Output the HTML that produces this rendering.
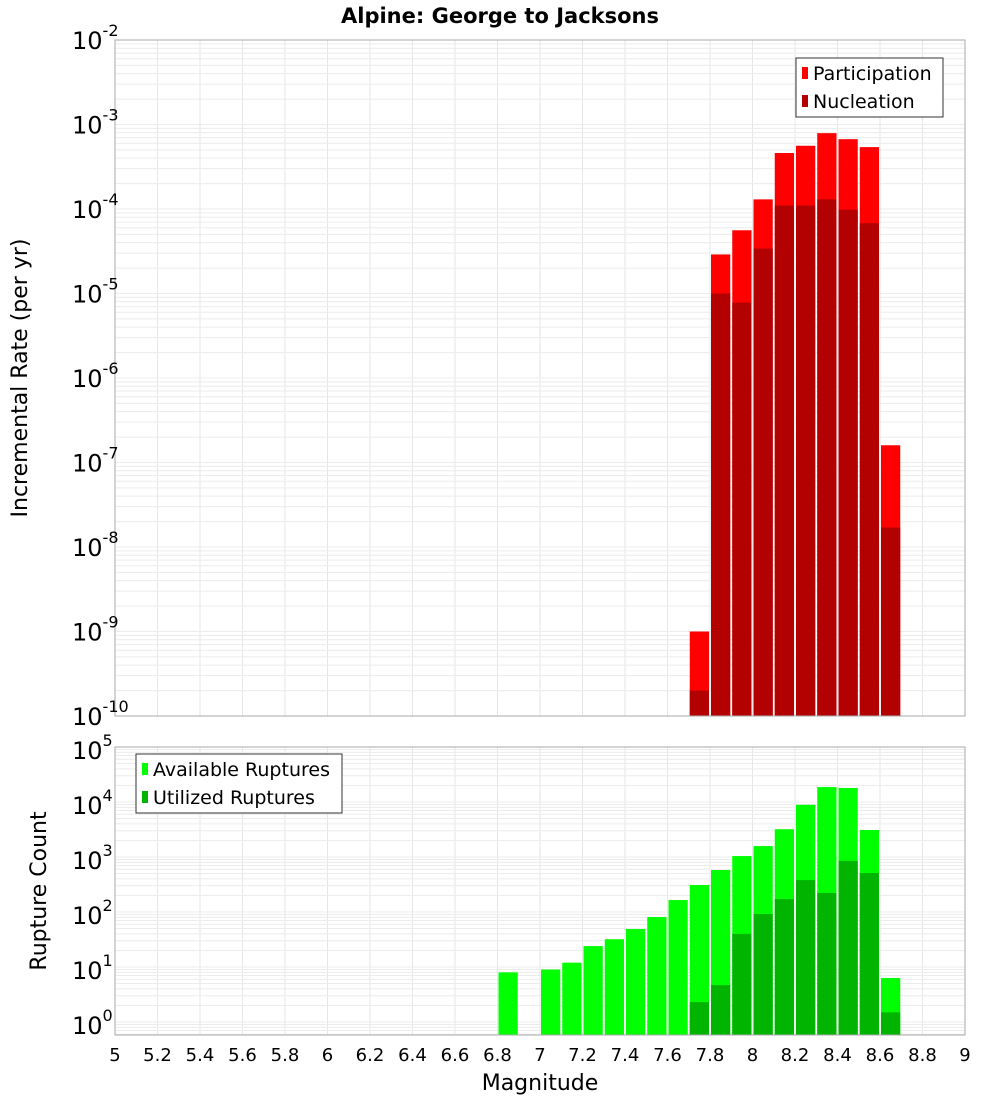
<!DOCTYPE html>
<html><head><meta charset="utf-8"><style>
body{margin:0;background:#fff;}
svg text{font-family:"DejaVu Sans","Liberation Sans",sans-serif;}
</style></head><body>
<svg id="c" width="1000" height="1100" xmlns="http://www.w3.org/2000/svg">
<text x="500" y="23" text-anchor="middle" font-size="21" font-weight="bold">Alpine: George to Jacksons</text>
<g id="grid"></g>
<g id="bars"></g>
<g id="axes"></g>
</svg>
<script>
const magBins = [7.7, 7.8, 7.9, 8.0, 8.1, 8.2, 8.3, 8.4, 8.5, 8.6];
const participation = [1e-9, 2.9e-5, 5.6e-5, 1.3e-4, 4.6e-4, 5.6e-4, 7.9e-4, 6.7e-4, 5.4e-4, 1.6e-7];
const nucleation = [2e-10, 1e-5, 7.8e-6, 3.4e-5, 1.1e-4, 1.1e-4, 1.3e-4, 9.8e-5, 6.8e-5, 1.7e-8];
const countBins = [6.8, 7.0, 7.1, 7.2, 7.3, 7.4, 7.5, 7.6, 7.7, 7.8, 7.9, 8.0, 8.1, 8.2, 8.3, 8.4, 8.5, 8.6];
const available = [8, 9, 12, 24, 32, 49, 81, 165, 310, 580, 1040, 1580, 3200, 8900, 18700, 18000, 3100, 6.3];
const utilBins = [7.7, 7.8, 7.9, 8.0, 8.1, 8.2, 8.3, 8.4, 8.5, 8.6];
const utilized = [2.3, 4.7, 40, 92, 172, 380, 222, 850, 510, 1.5];
const xTicks = [5,5.2,5.4,5.6,5.8,6,6.2,6.4,6.6,6.8,7,7.2,7.4,7.6,7.8,8,8.2,8.4,8.6,8.8,9];
const topExp = [-2,-3,-4,-5,-6,-7,-8,-9,-10];
const botExp = [5,4,3,2,1,0];

const NS="http://www.w3.org/2000/svg";
const X0=115,X1=965;
const xs=m=>X0+(m-5)*(X1-X0)/4;
const T0=40,T1=716;
const yTop=v=>T0+(-2-Math.log10(v))*(T1-T0)/8;
const B0=747,B1=1035;
const yBot=v=>1022-Math.log10(v)*55;
function mk(tag,attrs,parent){const e=document.createElementNS(NS,tag);for(const k in attrs)e.setAttribute(k,attrs[k]);parent.appendChild(e);return e;}
const grid=document.getElementById('grid'),bars=document.getElementById('bars'),axes=document.getElementById('axes');

// plot backgrounds & grid
[[T0,T1],[B0,B1]].forEach(([a,b],i)=>{
  xTicks.forEach(t=>{const l=mk('line',{x1:xs(t),x2:xs(t),y1:a,y2:b,stroke:'#e6e6e6'},grid);
    
    });
});
for(let e=-10;e<-2;e++)for(let k=1;k<10;k++){const y=yTop(k*Math.pow(10,e));
  const l=mk('line',{x1:X0,x2:X1,y1:y,y2:y,stroke:'#ececec'},grid);
  
  }
for(let e=-1;e<5;e++)for(let k=1;k<10;k++){const v=k*Math.pow(10,e);const y=yBot(v);if(y>B1||y<B0)continue;
  const l=mk('line',{x1:X0,x2:X1,y1:y,y2:y,stroke:'#ececec'},grid);
  
  }

function bar(m,v,yf,base,col,name){const x=xs(m)+1,w=xs(m+0.1)-xs(m)-2;const y=Math.max(yf(v),0);
  const r=mk('rect',{x:x,y:y,width:w,height:base-y,fill:col},bars);
  
  }
magBins.forEach((m,i)=>bar(m,participation[i],yTop,T1,'#ff0000','participation-bar'));
magBins.forEach((m,i)=>bar(m,nucleation[i],yTop,T1,'#b30000','nucleation-bar'));
countBins.forEach((m,i)=>bar(m,available[i],yBot,B1,'#00ff00','available-bar'));
utilBins.forEach((m,i)=>bar(m,utilized[i],yBot,B1,'#00b400','utilized-bar'));

// frames
[[T0,T1],[B0,B1]].forEach(([a,b])=>{const r=mk('rect',{x:X0,y:a,width:X1-X0,height:b-a,fill:'none',stroke:'#aaa'},axes);
  
  });

function powLabel(x,y,e,name){const t=mk('text',{x:x,y:y,'font-size':24,'text-anchor':'end'},axes);
  
  
  t.textContent='10';
  const s=mk('tspan',{dy:-13,'font-size':16},t);s.textContent=String(e);}
topExp.forEach(e=>powLabel(102,yTop(Math.pow(10,e))+9,e,'y-tick-label'));
botExp.forEach(e=>powLabel(102,yBot(Math.pow(10,e))+12,e,'y-tick-label-count'));
// fix right alignment: place exponent after base
axes.querySelectorAll('text').forEach(t=>{t.setAttribute('text-anchor','start');t.setAttribute('x',72);});

xTicks.forEach(t=>{const e=mk('text',{x:xs(t),y:1061,'font-size':18,'text-anchor':'middle'},axes);
  
  
  e.textContent=String(t);});

function txt(s,attrs,name){const e=mk('text',attrs,axes);e.textContent=s;return e;}
txt('Magnitude',{x:540,y:1090,'font-size':22,'text-anchor':'middle'},'x-axis-title');
txt('Incremental Rate (per yr)',{x:0,y:0,'font-size':22,'text-anchor':'middle',transform:'translate(27,378) rotate(-90)'},'y-axis-title-rate');
txt('Rupture Count',{x:0,y:0,'font-size':22,'text-anchor':'middle',transform:'translate(46,891) rotate(-90)'},'y-axis-title-count');

function legend(x,y,w,items,name){const g=mk('g',{},axes);
  mk('rect',{x:x,y:y,width:w,height:59,fill:'#fff',stroke:'#333'},g);
  items.forEach((it,i)=>{const cy=y+15+i*28;
    const r=mk('rect',{x:x+6,y:cy-6,width:6,height:12,fill:it[1]},g);
    
    
    const t=mk('text',{x:x+17,y:cy+7,'font-size':19},g);
    
    
    t.textContent=it[0];});}
legend(796,58,147,[['Participation','#ff0000'],['Nucleation','#b30000']],'legend-rate');
legend(136,754,206,[['Available Ruptures','#00ff00'],['Utilized Ruptures','#00b400']],'legend-count');
</script>
</body></html>
